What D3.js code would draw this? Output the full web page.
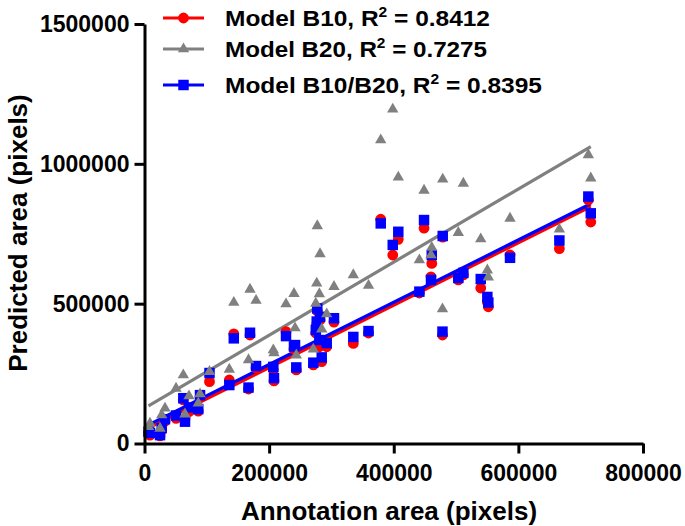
<!DOCTYPE html>
<html>
<head>
<meta charset="utf-8">
<script src="https://cdn.jsdelivr.net/npm/d3@7"></script>
<style>
  html, body { margin: 0; padding: 0; background: #fff; }
  text { font-family: Arial, "Liberation Sans", sans-serif; font-weight: bold; fill: #000; }
</style>
</head>
<body>
<svg id="chart" width="685" height="526"></svg>
<script>
// ---- data ----
const annotationArea = [6400, 8800, 24900, 27600, 32900, 50600, 62300, 65000, 71400, 86300, 89100, 104300,
  136100, 143300, 166900, 169300, 179000, 206700, 207800, 227100, 241600, 243600, 239900,
  277300, 281700, 304100, 276400, 274900, 280600, 292400, 284400, 270900,
  335100, 359500, 379100, 398400, 407300, 441100, 448600, 461000, 459800, 478600, 478200,
  503600, 511700, 539600, 550200, 551800, 586600, 665800, 712300, 716200];
const predB10 = [38000, 30000, 27000, 48000, 80000, 90000, 156000, 88000, 114000, 116000, 166000, 221000,
  227000, 392000, 195000, 388000, 270000, 263000, 224000, 400000, 342000, 263000, 338000,
  474000, 442000, 434000, 427000, 395000, 346000, 346000, 293000, 281000,
  358000, 395000, 802000, 674000, 730000, 538000, 770000, 644000, 596000, 738000, 388000,
  585000, 603000, 556000, 506000, 489000, 674000, 697000, 871000, 792000];
const predB20 = [60000, 72000, 54000, 102000, 126000, 197000, 245000, 105000, 170000, 144000, 177000, 257000,
  265000, 504000, 299000, 551000, 511000, 334000, 324000, 499000, 413000, 316000, 536000,
  778000, 678000, 561000, 573000, 501000, 535000, 463000, 409000, 337000,
  603000, 565000, 1085000, 1195000, 952000, 656000, 905000, 701000, 674000, 945000, 481000,
  754000, 930000, 731000, 620000, 595000, 805000, 766000, 1032000, 949000];
const predB10B20 = [42000, 38000, 30000, 55000, 87000, 100000, 162000, 78000, 129000, 123000, 173000, 252000,
  209000, 376000, 200000, 396000, 277000, 274000, 234000, 384000, 352000, 272000, 347000,
  483000, 453000, 448000, 436000, 406000, 370000, 359000, 308000, 289000,
  381000, 402000, 787000, 710000, 757000, 543000, 799000, 674000, 585000, 742000, 400000,
  592000, 610000, 588000, 524000, 504000, 664000, 726000, 883000, 823000];
const seriesNames = ["Model B10", "Model B20", "Model B10/B20"];
const seriesR2 = ["0.8412", "0.7275", "0.8395"];
const fitSlope = [1.1155, 1.3064, 1.1139];
const fitIntercept = [48600, 126100, 59400];
const xTicks = [0, 200000, 400000, 600000, 800000];
const yTicks = [0, 500000, 1000000, 1500000];
const xTitle = "Annotation area (pixels)";
const yTitle = "Predicted area (pixels)";

// ---- layout ----
const colors = ["#ff0000", "#808080", "#0000ff"];
const shapes = [d3.symbolCircle, d3.symbolTriangle, d3.symbolSquare];
const shapeSizes = [92, 56, 110];
const svg = d3.select("#chart");
const x = d3.scaleLinear().domain([0, 800000]).range([144.5, 643]);
const y = d3.scaleLinear().domain([0, 1500000]).range([443.5, 24]);

// regression lines
const xExt = d3.extent(annotationArea);
const lineGen = d3.line().x(d => x(d[0])).y(d => y(d[1]));
[0, 1, 2].forEach(i => {
  const pts = xExt.map(v => [v, fitIntercept[i] + fitSlope[i] * v]);
  svg.append("path").attr("d", lineGen(pts))
    .attr("fill", "none").attr("stroke", colors[i]).attr("stroke-width", 3.2);
});

// points: red circles, blue squares, gray triangles on top
const series = [predB10, predB20, predB10B20];
[0, 2, 1].forEach(i => {
  svg.append("g").selectAll("path").data(annotationArea).join("path")
    .attr("d", d3.symbol().type(shapes[i]).size(shapeSizes[i]))
    .attr("transform", (d, j) => `translate(${x(d)},${y(series[i][j])})`)
    .attr("fill", colors[i]);
});

// axes
const xAxis = d3.axisBottom(x).tickValues(xTicks).tickSize(10).tickSizeOuter(0).tickPadding(11)
  .tickFormat(d3.format("d"));
const yAxis = d3.axisLeft(y).tickValues(yTicks).tickSize(10).tickSizeOuter(0).tickPadding(5)
  .tickFormat(d3.format("d"));
const gx = svg.append("g").attr("transform", `translate(0,${y(0)})`).call(xAxis);
const gy = svg.append("g").attr("transform", `translate(${x(0)},0)`).call(yAxis);
[gx, gy].forEach(g => {
  g.selectAll("path, line").attr("stroke", "#000").attr("stroke-width", 3);
  g.selectAll("text").attr("font-size", 23).attr("fill", "#000");
  g.attr("font-family", null).attr("font-size", null);
});

// axis titles
svg.append("text").attr("x", 389).attr("y", 520).attr("text-anchor", "middle")
  .attr("font-size", 26).text(xTitle);
svg.append("text").attr("transform", "translate(27,233) rotate(-90)").attr("text-anchor", "middle")
  .attr("font-size", 26).text(yTitle);

// legend
const legendY = [18, 49, 85];
const legendWidths = [265, 262, 317];
seriesNames.forEach((name, i) => {
  const g = svg.append("g").attr("transform", `translate(0,${legendY[i]})`);
  g.append("line").attr("x1", 163).attr("x2", 204).attr("y1", 0).attr("y2", 0)
    .attr("stroke", colors[i]).attr("stroke-width", 3.2);
  g.append("path").attr("d", d3.symbol().type(shapes[i]).size(shapeSizes[i]))
    .attr("transform", "translate(183.5,0)").attr("fill", colors[i]);
  const t = g.append("text").attr("x", 225).attr("y", 8).attr("font-size", 22)
    .attr("textLength", legendWidths[i]).attr("lengthAdjust", "spacingAndGlyphs");
  t.append("tspan").text(name + ", R");
  t.append("tspan").attr("font-size", 14).attr("dy", -9).text("2");
  t.append("tspan").attr("dy", 9).text(" = " + seriesR2[i]);
});
</script>
</body>
</html>
